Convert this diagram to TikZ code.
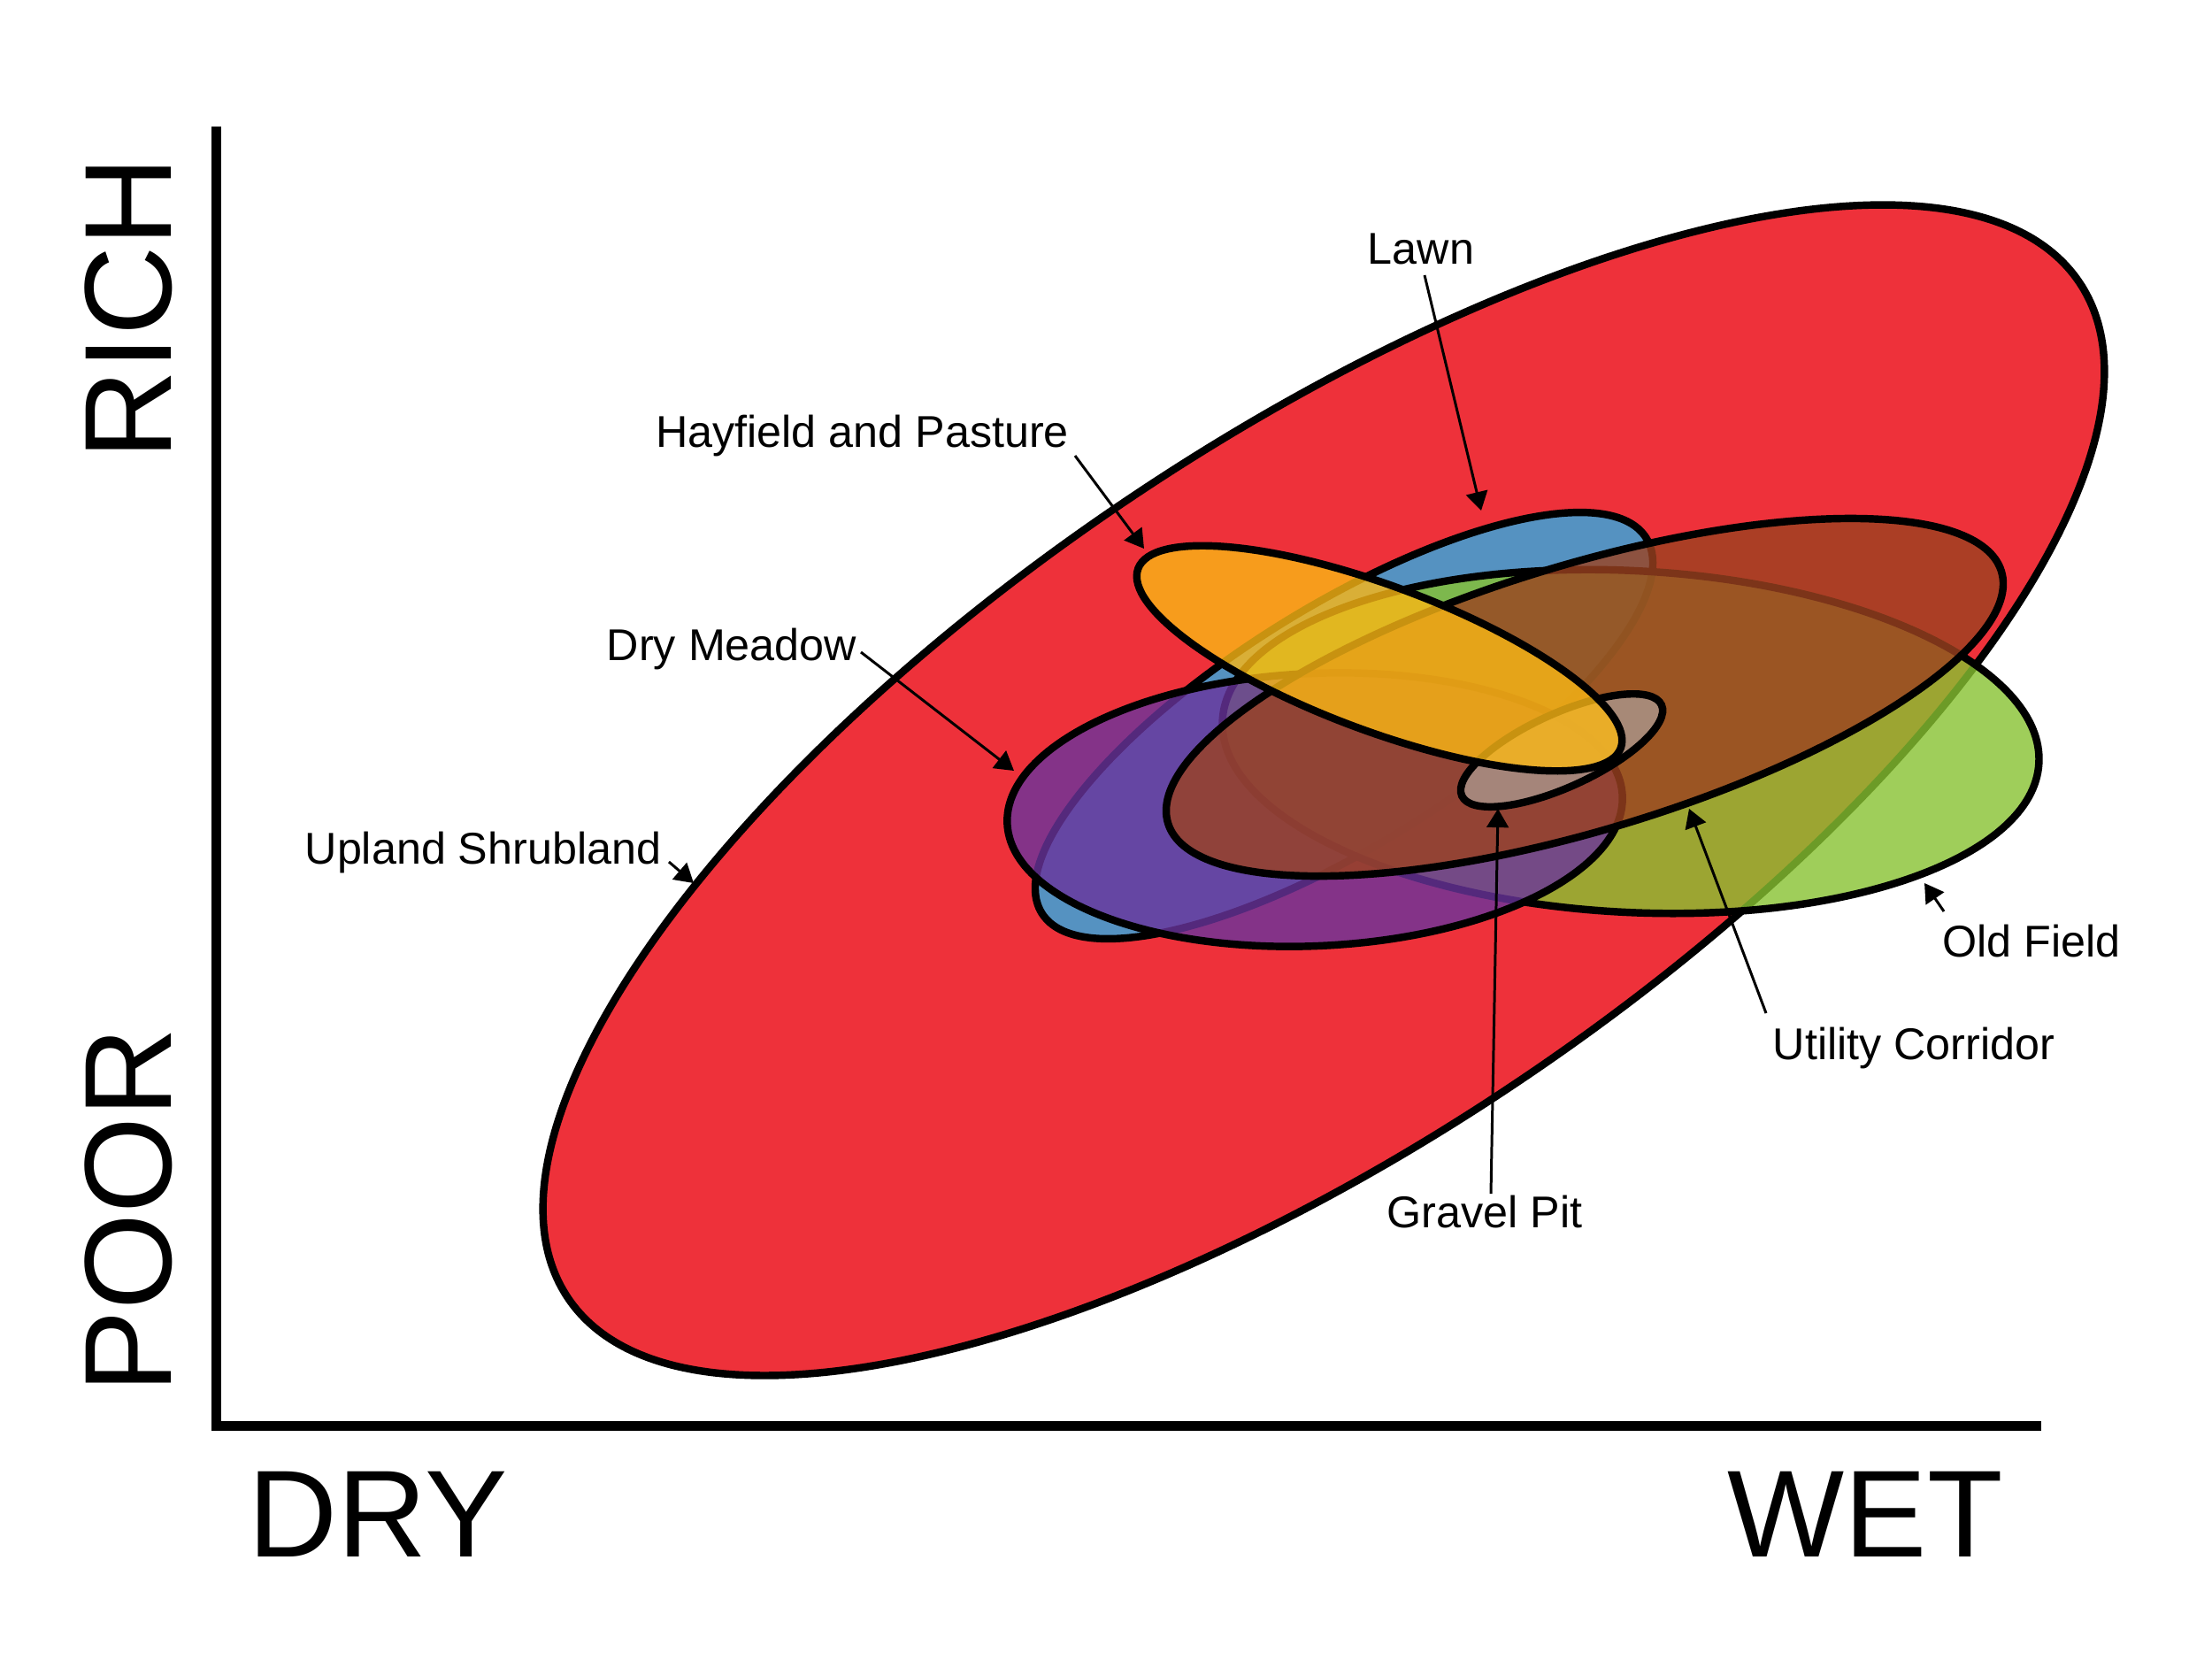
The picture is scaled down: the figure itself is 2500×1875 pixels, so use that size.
\documentclass[tikz,border=0pt]{standalone}
\usepackage{fontspec}
\setmainfont{Liberation Sans}
\usetikzlibrary{arrows.meta}
\definecolor{cred}{RGB}{238,49,58}
\definecolor{cblue}{RGB}{85,146,193}
\definecolor{cgreen}{RGB}{136,194,49}
\definecolor{cpurple}{RGB}{106,52,156}
\definecolor{cbrown}{RGB}{155,66,32}
\definecolor{ctan}{RGB}{170,150,140}
\definecolor{corange}{RGB}{250,183,21}
\begin{document}
\begin{tikzpicture}[x=0.01cm,y=-0.01cm,
  zone/.style={draw=black,line width=2.4pt,fill opacity=0.8},
  lbl/.style={font=\fontsize{14.3}{17}\selectfont,inner sep=0,anchor=base},
  big/.style={font=\fontsize{39.8}{48}\selectfont,inner sep=0},
  ptr/.style={line width=0.85pt,-{Triangle[length=6pt,width=7pt]}},
  axisline/.style={line width=3.13pt,line join=miter}]
\fill[white] (0,0) rectangle (2500,1875);
\useasboundingbox (0,0) rectangle (2500,1875);

% habitat zones
\path[zone,fill=cred,fill opacity=1] [rotate around={33.9:(1496,893)}] (1496,893) ellipse [x radius=1029,y radius=396];
\path[zone,fill=cblue,fill opacity=1] [rotate around={31.8:(1519,820)}] (1519,820) ellipse [x radius=402,y radius=135];
\path[zone,fill=cgreen] [rotate around={-3:(1843,838)}] (1843,838) ellipse [x radius=462,y radius=193];
\path[zone,fill=cpurple] [rotate around={2.6:(1486,915)}] (1486,915) ellipse [x radius=348,y radius=154];
\path[zone,fill=cbrown] [rotate around={16.8:(1791,788)}] (1791,788) ellipse [x radius=492,y radius=150];
\path[zone,fill=ctan] [rotate around={24.5:(1765,848)}] (1765,848) ellipse [x radius=124,y radius=41.5];
\path[zone,fill=corange] [rotate around={-20.4:(1559,744)}] (1559,744) ellipse [x radius=291,y radius=82];

% axes
\draw[axisline] (244.5,143) -- (244.5,1611.5) -- (2307,1611.5);
\node[big,rotate=90] (rich) at (145.5,348.5) {RICH};
\node[big,rotate=90] (poor) at (145.5,1368) {POOR};
\node[big] (dry) at (427,1711) {DRY};
\node[big] (wet) at (2108,1711) {WET};

% labels
\node[lbl] (lawn) at (1606,298) {Lawn};
\node[lbl] (hay) at (974.5,505) {Hayfield and Pasture};
\node[lbl] (drym) at (827,746) {Dry Meadow};
\node[lbl] (upl) at (546,976) {Upland Shrubland};
\node[lbl] (oldf) at (2296,1081) {Old Field};
\node[lbl] (util) at (2163,1197) {Utility Corridor};
\node[lbl] (grav) at (1678,1387) {Gravel Pit};

% pointer ends
\coordinate (lawnS) at (1610,311);  \coordinate (lawnT) at (1674,577);
\coordinate (hayS) at (1215,515);   \coordinate (hayT) at (1293,620);
\coordinate (drymS) at (973,737);   \coordinate (drymT) at (1146,871);
\coordinate (uplS) at (756,974);    \coordinate (uplT) at (784,998);
\coordinate (oldfS) at (2197,1030); \coordinate (oldfT) at (2175,998);
\coordinate (utilS) at (1996,1145); \coordinate (utilT) at (1909,914);
\coordinate (gravS) at (1685,1349); \coordinate (gravT) at (1693,914);

\draw[ptr] (lawnS) -- (lawnT);
\draw[ptr] (hayS) -- (hayT);
\draw[ptr] (drymS) -- (drymT);
\draw[ptr] (uplS) -- (uplT);
\draw[ptr] (oldfS) -- (oldfT);
\draw[ptr] (utilS) -- (utilT);
\draw[ptr] (gravS) -- (gravT);
\end{tikzpicture}
\end{document}
